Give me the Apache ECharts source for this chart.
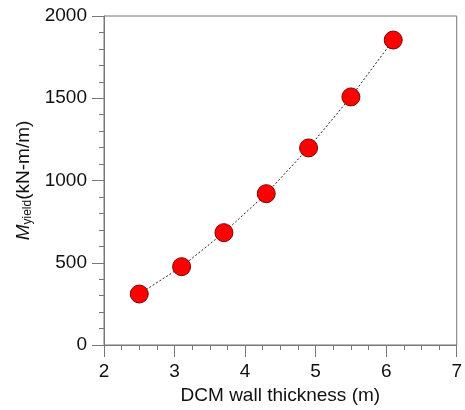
<!DOCTYPE html>
<html>
<head>
<meta charset="utf-8">
<script src="https://cdn.jsdelivr.net/npm/echarts@6/dist/echarts.min.js"></script>
<style>
html, body { margin: 0; padding: 0; background: #fff; }
#chart { width: 465px; height: 410px; }
</style>
</head>
<body>
<div id="chart"></div>
<script>
// wall thickness (m) vs yield moment (kN-m/m)
const thickness = [2.5, 3.1, 3.7, 4.3, 4.9, 5.5, 6.1]
const myield = [310, 476, 683, 920, 1198, 1508, 1854]

const axisGray = '#777'
const textColor = '#111'
const font = 'Liberation Sans, Arial, sans-serif'

const chart = echarts.init(document.getElementById('chart'))
chart.setOption({
  animation: false,
  grid: {
    left: 104, right: 3, top: 16, bottom: 65,
    show: true, borderColor: axisGray, borderWidth: 1
  },
  xAxis: {
    type: 'value',
    min: 2, max: 7, interval: 1,
    name: 'DCM wall thickness (m)',
    nameLocation: 'middle',
    nameGap: 41,
    nameTextStyle: { fontFamily: font, fontSize: 19, color: textColor },
    axisLine: { lineStyle: { color: axisGray } },
    axisTick: { inside: false, length: 12, lineStyle: { color: axisGray } },
    minorTick: { show: true, splitNumber: 4, length: 5, lineStyle: { color: axisGray } },
    axisLabel: { fontFamily: font, fontSize: 19, color: textColor, margin: 17 },
    splitLine: { show: false }
  },
  yAxis: {
    type: 'value',
    min: 0, max: 2000, interval: 500,
    name: '{i|M}{s|yield}(kN-m/m)',
    nameLocation: 'middle',
    nameGap: 61,
    nameTextStyle: {
      fontFamily: font, fontSize: 19, color: textColor,
      rich: {
        i: { fontFamily: font, fontSize: 19, fontStyle: 'italic', color: textColor },
        s: { fontFamily: font, fontSize: 12, color: textColor, padding: [8, 0, 0, 0] }
      }
    },
    axisLine: { lineStyle: { color: axisGray } },
    axisTick: { inside: false, length: 12, lineStyle: { color: axisGray } },
    minorTick: { show: true, splitNumber: 5, length: 5, lineStyle: { color: axisGray } },
    axisLabel: {
      fontFamily: font, fontSize: 19, color: textColor, margin: 17,
      formatter: v => String(v)
    },
    splitLine: { show: false }
  },
  series: [{
    type: 'line',
    data: thickness.map((t, i) => [t, myield[i]]),
    symbol: 'circle',
    symbolSize: 18,
    lineStyle: { color: '#222', width: 1, type: [2, 2] },
    itemStyle: { color: '#ff0000', borderColor: '#7a0000', borderWidth: 1 }
  }]
})
</script>
</body>
</html>
